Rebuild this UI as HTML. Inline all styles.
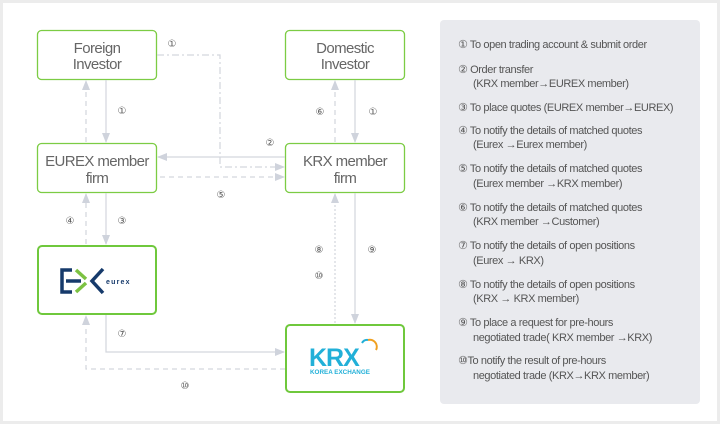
<!DOCTYPE html>
<html><head><meta charset="utf-8"><style>
html,body{margin:0;padding:0;background:#fff}
svg{display:block}
.bt{font-family:"Liberation Sans",sans-serif;font-size:15px;fill:#666;text-anchor:middle;letter-spacing:-0.6px}
.c{font-family:"Liberation Sans","DejaVu Sans",sans-serif;font-size:10px;fill:#555;text-anchor:middle}
.p{font-family:"Liberation Sans","DejaVu Sans",sans-serif;font-size:11px;fill:#555;letter-spacing:-0.4px}
</style></head><body>
<svg width="720" height="424" viewBox="0 0 720 424" xmlns="http://www.w3.org/2000/svg">
<defs>
<marker id="a" markerWidth="10" markerHeight="8" refX="9" refY="4" orient="auto" markerUnits="userSpaceOnUse">
<path d="M0,0 L10,4 L0,8 Z" fill="#cfd3dc"/></marker>
</defs>
<rect x="0" y="0" width="720" height="424" fill="#ececec"/>
<rect x="3" y="3" width="714" height="418" fill="#fff"/>
<rect x="440" y="20" width="260" height="384" rx="4" fill="#e9eaee"/>

<g fill="#fff" stroke="#7ccc44" stroke-width="1.3">
<rect x="37.5" y="30.5" width="119" height="49" rx="4"/>
<rect x="285.5" y="30.5" width="119" height="49" rx="4"/>
<rect x="37.5" y="143.5" width="119" height="49" rx="4"/>
<rect x="285.5" y="143.5" width="119" height="49" rx="4"/>
</g>
<g fill="#fff" stroke="#6fc83c" stroke-width="2">
<rect x="38" y="246" width="118" height="68" rx="4"/>
<rect x="286" y="325" width="118" height="67" rx="4"/>
</g>

<text class="bt" x="97" y="53">Foreign</text><text class="bt" x="97" y="69">Investor</text>
<text class="bt" x="345" y="53">Domestic</text><text class="bt" x="345" y="69">Investor</text>
<text class="bt" x="97" y="166">EUREX member</text><text class="bt" x="97" y="183">firm</text>
<text class="bt" x="345" y="166">KRX member</text><text class="bt" x="345" y="183">firm</text>

<!-- eurex logo -->
<path d="M72,270 H62 V292 H72" fill="none" stroke="#163a6b" stroke-width="3.5"/>
<line x1="66" y1="281" x2="81" y2="281" stroke="#163a6b" stroke-width="3.5"/>
<line x1="76" y1="270" x2="86" y2="279" stroke="#7cc242" stroke-width="3.5"/>
<line x1="76" y1="292" x2="86" y2="283" stroke="#7cc242" stroke-width="3.5"/>
<polyline points="103,269 92,281 103,293" fill="none" stroke="#163a6b" stroke-width="3.5"/>
<text x="106" y="284" font-family="Liberation Sans,sans-serif" font-size="7" font-weight="bold" fill="#163a6b" letter-spacing="1.2">eurex</text>

<!-- krx logo -->
<text x="309" y="366" font-family="Liberation Sans,sans-serif" font-size="25" font-weight="bold" fill="#22b0d8" letter-spacing="-1">KRX</text>
<path d="M368,340 A7,7 0 0 1 376,350" fill="none" stroke="#f0a020" stroke-width="2"/>
<path d="M362,343 A6,6 0 0 1 368,340" fill="none" stroke="#22b0d8" stroke-width="2"/>
<text x="310" y="374" font-family="Liberation Sans,sans-serif" font-size="6.3" font-weight="bold" fill="#22b0d8">KOREA EXCHANGE</text>

<g stroke="#d3d6dd" stroke-width="1.2" fill="none">
<line x1="106" y1="80" x2="106" y2="142" marker-end="url(#a)"/>
<line x1="86" y1="142" x2="86" y2="81" stroke-dasharray="5,4" marker-end="url(#a)"/>
<polyline points="157,55 220,55 220,167 284,167" stroke-dasharray="7,3,2,3" marker-end="url(#a)"/>
<line x1="285" y1="157" x2="158" y2="157" marker-end="url(#a)"/>
<line x1="160" y1="177" x2="284" y2="177" stroke-dasharray="5,4" marker-end="url(#a)"/>
<line x1="355" y1="80" x2="355" y2="142" marker-end="url(#a)"/>
<line x1="335" y1="142" x2="335" y2="81" stroke-dasharray="5,4" marker-end="url(#a)"/>
<line x1="106" y1="193" x2="106" y2="244" marker-end="url(#a)"/>
<line x1="86" y1="244" x2="86" y2="194" stroke-dasharray="5,4" marker-end="url(#a)"/>
<line x1="355" y1="193" x2="355" y2="323" marker-end="url(#a)"/>
<line x1="335" y1="323" x2="335" y2="194" stroke-dasharray="2,2" marker-end="url(#a)"/>
<polyline points="106,315 106,352 284,352" marker-end="url(#a)"/>
<polyline points="285,369 86,369 86,316" stroke-dasharray="5,4" marker-end="url(#a)"/>
</g>

<g class="c">
<text x="172" y="47">①</text><text x="122" y="114">①</text><text x="320" y="115">⑥</text><text x="373" y="115">①</text>
<text x="270" y="146">②</text><text x="221" y="198">⑤</text>
<text x="70" y="224">④</text><text x="122" y="224">③</text>
<text x="319" y="253">⑧</text><text x="319" y="279">⑩</text><text x="372" y="253">⑨</text>
<text x="122" y="337">⑦</text><text x="185" y="389">⑩</text>
</g>

<g class="p">
<text x="458" y="48">① To open trading account &amp; submit order</text>
<text x="458" y="73">② Order transfer</text><text x="473" y="87">(KRX member→EUREX member)</text>
<text x="458" y="111">③ To place quotes (EUREX member→EUREX)</text>
<text x="458" y="134">④ To notify the details of matched quotes</text><text x="473" y="148">(Eurex →Eurex member)</text>
<text x="458" y="172">⑤ To notify the details of matched quotes</text><text x="473" y="187">(Eurex member →KRX member)</text>
<text x="458" y="211">⑥ To notify the details of matched quotes</text><text x="473" y="225">(KRX member →Customer)</text>
<text x="458" y="249">⑦ To notify the details of open positions</text><text x="473" y="264">(Eurex  → KRX)</text>
<text x="458" y="288">⑧ To notify the details of open positions</text><text x="473" y="302">(KRX → KRX member)</text>
<text x="458" y="326">⑨ To place a request for pre-hours</text><text x="473" y="341">negotiated trade( KRX  member →KRX)</text>
<text x="458" y="364">⑩To notify the result of pre-hours</text><text x="473" y="379">negotiated trade (KRX→KRX member)</text>
</g>
</svg>
</body></html>
